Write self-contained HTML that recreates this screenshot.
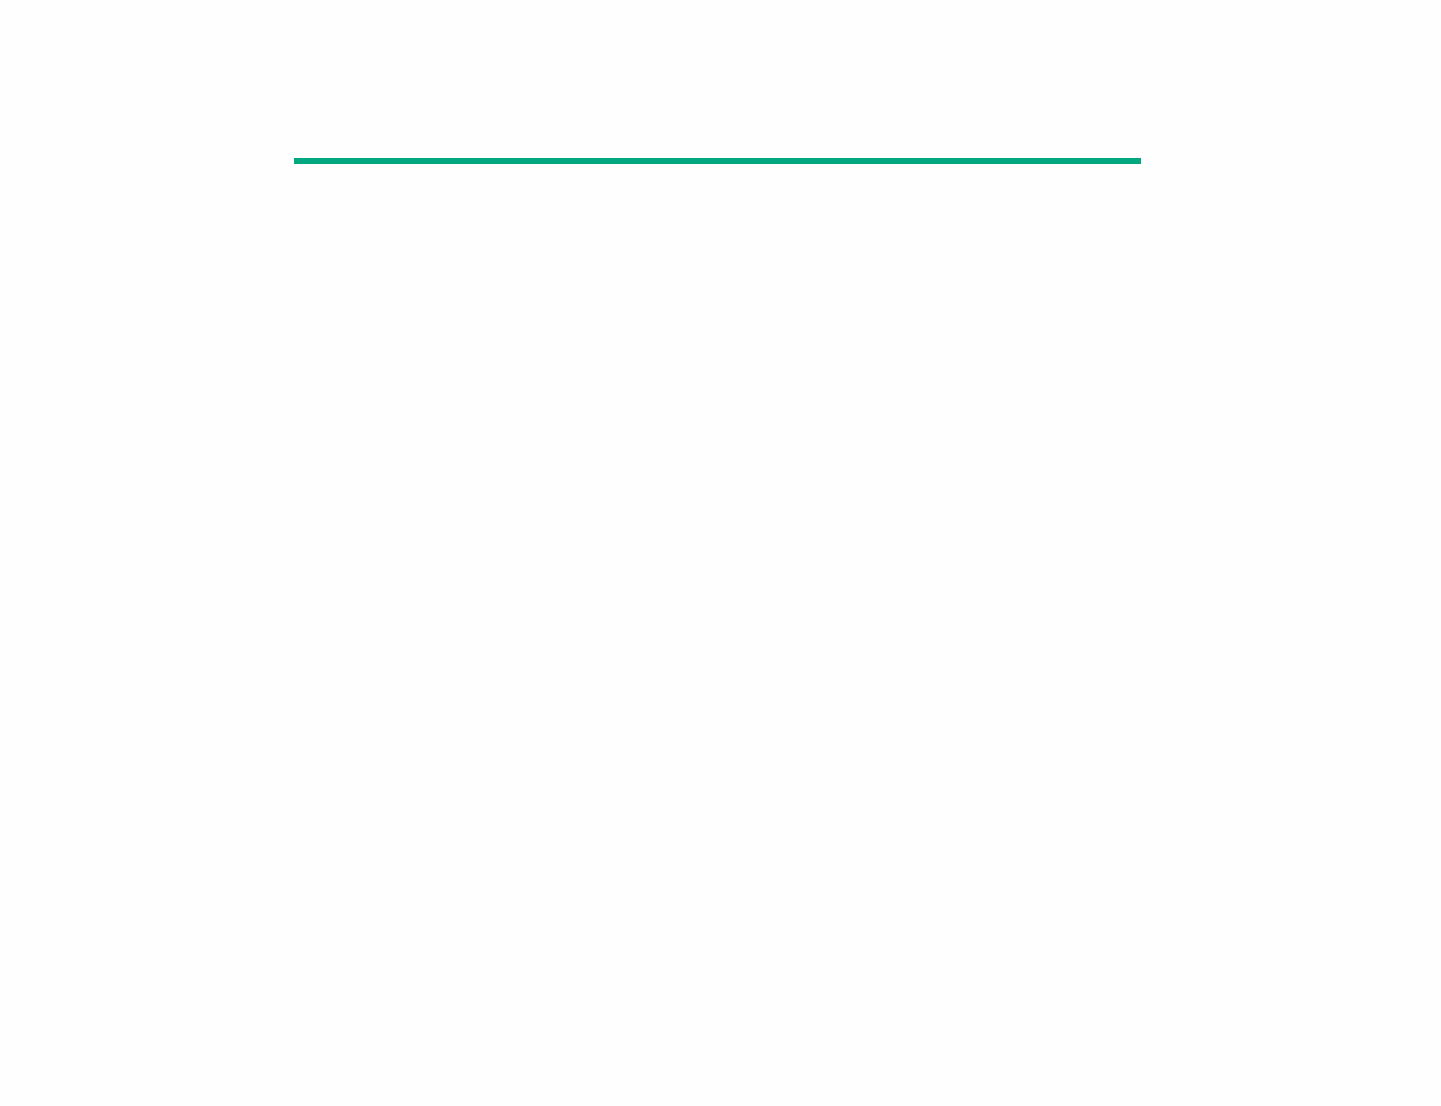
<!DOCTYPE html>
<html><head><style>
html,body{margin:0;padding:0;background:#fefefe;width:1441px;height:1106px;overflow:hidden;}
.bar{position:absolute;left:294px;top:158px;width:847px;height:6px;background:#00a77f;}
</style></head><body><div class="bar"></div></body></html>
